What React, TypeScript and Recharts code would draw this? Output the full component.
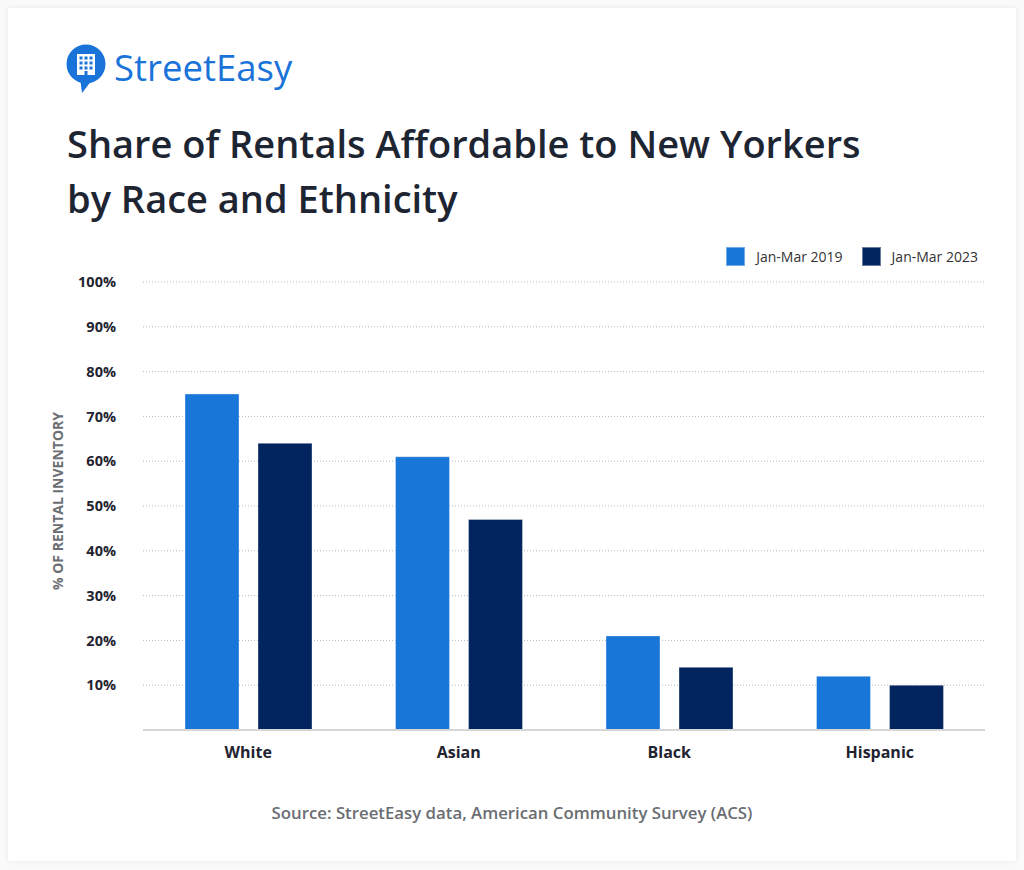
import React from "react";
import { BarChart, Bar, XAxis, YAxis, CartesianGrid } from "recharts";

const categories = ["White", "Asian", "Black", "Hispanic"];
const series2019 = [75, 61, 21, 12];
const series2023 = [64, 47, 14, 10];
const yTicks = [10, 20, 30, 40, 50, 60, 70, 80, 90, 100];
const seriesNames = ["Jan-Mar 2019", "Jan-Mar 2023"];
const colors = ["#1976D9", "#03255F"];

const data = categories.map((c, i) => ({ name: c, y2019: series2019[i], y2023: series2023[i] }));

const FONT = "'Open Sans', 'Noto Sans', sans-serif";

const LegendBox = () => (
  <div
    style={{
      position: "absolute",
      top: 247,
      right: 46,
      display: "flex",
      alignItems: "center",
      fontFamily: FONT,
      fontSize: 14,
      color: "#333",
      lineHeight: "19px",
    }}
  >
    {seriesNames.map((n, i) => (
      <div key={n} style={{ display: "flex", alignItems: "center", marginLeft: i ? 19 : 0 }}>
        <div style={{ width: 19, height: 19, background: colors[i], border: "1px solid rgba(255,255,255,0.4)", boxSizing: "border-box" }} />
        <span style={{ marginLeft: 11 }}>{n}</span>
      </div>
    ))}
  </div>
);

const YLabel = () => (
  <text
    x={57}
    y={501}
    transform="rotate(-90 57 501)"
    textAnchor="middle"
    dominantBaseline="central"
    fill="#6b6e73"
    fontFamily={FONT}
    fontWeight={700}
    fontSize={14}
  >
    % OF RENTAL INVENTORY
  </text>
);

export default function App() {
  return (
    <div style={{ position: "absolute", left: 0, top: 0, width: 1024, height: 870, background: "#fafafa" }}>
      <div
        style={{
          position: "absolute",
          left: 8,
          top: 8,
          width: 1008,
          height: 853,
          background: "#fff",
          boxShadow: "0 0 6px rgba(0,0,0,0.08)",
        }}
      />
      {/* Logo */}
      <svg style={{ position: "absolute", left: 66, top: 44 }} width={42} height={50} viewBox="0 0 42 50">
        <circle cx={20} cy={20} r={19.5} fill="#1A73D9" />
        <path d="M14 34 L16 49 L26 36 Z" fill="#1A73D9" />
        <rect x={11} y={10} width={18} height={21} fill="#fff" />
        {[0, 1, 2].map((r) =>
          [0, 1, 2].map((c) => (
            <rect key={`${r}-${c}`} x={13.5 + c * 5} y={12.5 + r * 5} width={3} height={3} fill="#1A73D9" />
          ))
        )}
        <rect x={18.5} y={27} width={3} height={4} fill="#1A73D9" />
      </svg>
      <div
        style={{
          position: "absolute",
          left: 114,
          top: 43,
          fontFamily: FONT,
          fontWeight: 500,
          fontSize: 36.5,
          color: "#1A73D9",
          lineHeight: "48px",
        }}
      >
        StreetEasy
      </div>
      {/* Title */}
      <div
        style={{
          position: "absolute",
          left: 67,
          top: 116,
          fontFamily: FONT,
          fontWeight: 600,
          fontSize: 38,
          color: "#1E2532",
          lineHeight: "55px",
        }}
      >
        Share of Rentals Affordable to New Yorkers
        <br />
        by Race and Ethnicity
      </div>
      <LegendBox />
      <div style={{ position: "absolute", left: 0, top: 0 }}>
        <BarChart
          width={1024}
          height={870}
          data={data}
          margin={{ top: 282, right: 39, bottom: 110, left: 83 }}
          barCategoryGap={42}
          barGap={19}
        >
          <CartesianGrid vertical={false} stroke="#b8b8b8" strokeDasharray="1 2" />
          <XAxis
            dataKey="name"
            height={30}
            axisLine={{ stroke: "#d6d6d6", strokeWidth: 2 }}
            tickLine={false}
            tickSize={0}
            tickMargin={17}
            tick={{ fill: "#1f2430", fontFamily: FONT, fontWeight: 700, fontSize: 16 }}
          />
          <YAxis
            width={60}
            domain={[0, 100]}
            ticks={yTicks}
            axisLine={false}
            tickLine={false}
            tickSize={0}
            tickMargin={27}
            tickFormatter={(v) => `${v}%`}
            tick={{ fill: "#1f2430", fontFamily: FONT, fontWeight: 700, fontSize: 14.5 }}
            label={<YLabel />}
          />
          <Bar dataKey="y2019" name={seriesNames[0]} fill={colors[0]} stroke="rgba(255,255,255,0.35)" barSize={54} isAnimationActive={false} />
          <Bar dataKey="y2023" name={seriesNames[1]} fill={colors[1]} stroke="rgba(255,255,255,0.35)" barSize={54} isAnimationActive={false} />
        </BarChart>
      </div>
      <div
        style={{
          position: "absolute",
          left: 0,
          width: 1024,
          top: 801,
          textAlign: "center",
          fontFamily: FONT,
          fontWeight: 600,
          fontSize: 16.8,
          color: "#6a6d72",
        }}
      >
        Source: StreetEasy data, American Community Survey (ACS)
      </div>
    </div>
  );
}
